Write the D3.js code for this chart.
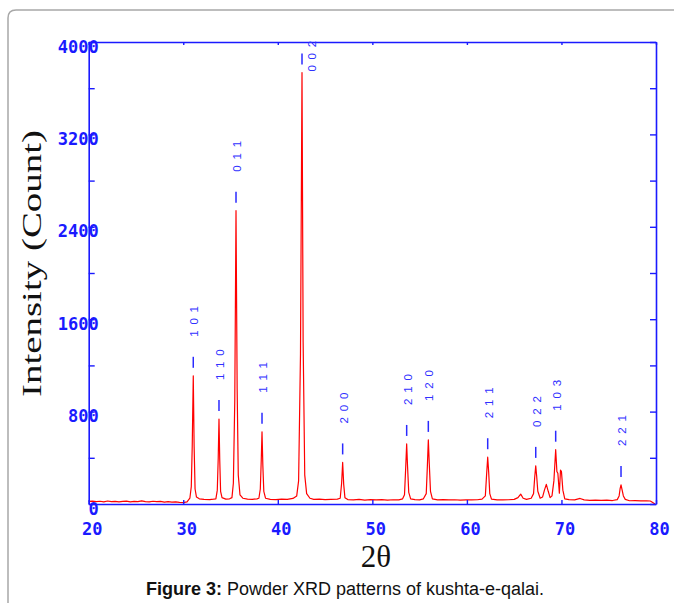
<!DOCTYPE html>
<html>
<head>
<meta charset="utf-8">
<script src="https://cdn.jsdelivr.net/npm/d3@7"></script>
<style>
  html, body { margin: 0; padding: 0; background: #fff; }
  svg { display: block; }
</style>
</head>
<body>
<div id="chart"></div>
<script>
// 衍射图谱：2θ 与强度
var twoTheta = [
  20.0, 20.4, 20.8, 21.2, 21.6, 22.0, 22.4, 22.8, 23.2, 23.6, 24.0, 24.4, 24.8, 25.2, 25.6,
  26.0, 26.4, 26.8, 27.2, 27.6, 28.0, 28.4, 28.8, 29.2, 29.6, 30.0, 30.4,
  30.70, 30.85, 30.95, 31.06, 31.15, 31.25, 31.40, 31.70, 32.2, 32.8, 33.2,
  33.45, 33.60, 33.70, 33.78, 33.86, 33.95, 34.10, 34.5, 34.9,
  35.15, 35.30, 35.45, 35.58, 35.70, 35.82, 36.00, 36.30, 36.8, 37.3, 37.8,
  38.00, 38.15, 38.25, 38.33, 38.42, 38.52, 38.70, 39.2, 39.8, 40.4, 41.0, 41.6,
  42.00, 42.20, 42.40, 42.56, 42.68, 42.85, 43.05, 43.40, 43.8, 44.4, 45.0, 45.6, 46.3,
  46.60, 46.75, 46.86, 46.97, 47.10, 47.40, 48.0, 48.6, 49.2, 49.8, 50.4, 51.0, 51.6, 52.2, 52.8, 53.2,
  53.40, 53.52, 53.63, 53.72, 53.85, 54.05, 54.5, 55.0, 55.4,
  55.70, 55.82, 55.92, 56.02, 56.15, 56.35, 56.9, 57.5, 58.1, 58.7, 59.3, 59.9, 60.5, 61.1, 61.6,
  61.95, 62.08, 62.20, 62.30, 62.42, 62.60, 63.2, 63.8, 64.4, 65.0, 65.4,
  65.69, 65.95, 66.3, 66.8,
  67.05, 67.17, 67.28, 67.38, 67.50, 67.75, 68.0, 68.2, 68.4, 68.6, 68.8, 69.0, 69.2,
  69.39, 69.52, 69.62, 69.78, 69.90, 70.00, 70.15, 70.35, 70.8, 71.4, 71.97, 72.4, 73.0, 73.6, 74.2, 74.8, 75.4, 75.9,
  76.10, 76.20, 76.30, 76.42, 76.55, 76.75, 77.2, 77.8, 78.4, 79.0, 79.4, 79.9
];
var counts = [
  22, 25, 20, 24, 19, 26, 21, 23, 18, 22, 25, 19, 23, 20, 27,
  21, 18, 24, 20, 22, 17, 21, 16, 19, 14, 12, 18,
  50, 150, 500, 1110, 500, 130, 60, 45, 40, 38, 42,
  45, 120, 400, 735, 380, 110, 55, 42, 45,
  55, 180, 900, 2540, 1000, 250, 80, 50, 42, 40, 45,
  50, 130, 380, 625, 330, 110, 50, 40, 38, 42, 40, 48,
  70, 200, 1300, 3735, 1400, 250, 90, 50, 40, 42, 38, 40, 42,
  50, 180, 360, 170, 55, 38, 36, 40, 34, 38, 35, 38, 34, 37, 36, 45,
  80, 300, 520, 330, 100, 45, 38, 36, 45,
  90, 330, 555, 350, 110, 45, 36, 38, 35, 37, 34, 36, 35, 37, 42,
  70, 250, 405, 280, 90, 42, 36, 35, 37, 40, 55,
  85, 50, 40, 50,
  90, 230, 330, 240, 110, 50, 60, 120, 170, 110, 55, 70, 200,
  470, 280, 266, 93, 294, 280, 120, 45, 38, 36, 48, 36, 32, 34, 31, 33, 30, 38,
  70, 130, 165, 120, 70, 40, 28, 30, 27, 28, 26, 0
];

// 晶面标注
var hklNames = ["1 0 1", "1 1 0", "0 1 1", "1 1 1", "0 0 2", "2 0 0", "2 1 0", "1 2 0", "2 1 1", "0 2 2", "1 0 3", "2 2 1"];
var hklTheta = [31.06, 33.78, 35.58, 38.33, 42.56, 46.86, 53.63, 55.92, 62.20, 67.28, 69.39, 76.30];

// 刻度
var xTicks = [20, 30, 40, 50, 60, 70, 80];
var yTicks = [0, 400, 800, 1200, 1600, 2000, 2400, 2800, 3200, 3600, 4000];
var yLabelTicks = [0, 800, 1600, 2400, 3200, 4000];

var width = 674, height = 603;
var blue = "#1a1aff";

var svg = d3.select("#chart").append("svg")
  .attr("width", width)
  .attr("height", height)
  .style("background", "#fff");

// 外框（圆角，右下方超出画面）
svg.append("path")
  .attr("d", "M8,610 L8,18 Q8,10 16,10 L690,10")
  .attr("fill", "none")
  .attr("stroke", "#a8a8a8")
  .attr("stroke-width", 1.5);

var x = d3.scaleLinear().domain([20, 80]).range([88.7, 656]);
var y = d3.scaleLinear().domain([0, 4000]).range([504, 42]);

function styleAxis(g) {
  g.select(".domain").attr("stroke", blue).attr("stroke-width", 1.6);
  g.selectAll(".tick line").attr("stroke", blue).attr("stroke-width", 1.4);
  g.selectAll(".tick text")
    .attr("fill", blue)
    .attr("font-family", "'DejaVu Sans Mono', monospace")
    .attr("font-weight", "bold")
    .attr("font-size", "17px");
}

//曲线
var pts = twoTheta.map(function(t, i) { return [t, counts[i]]; });
svg.append("path")
  .datum(pts)
  .attr("d", d3.line().x(function(d) { return x(d[0]); }).y(function(d) { return y(d[1]); }))
  .attr("fill", "none")
  .attr("stroke", "#ff0000")
  .attr("stroke-width", 1.2)
  .attr("stroke-linejoin", "round");

//坐标轴
var gTop = svg.append("g").attr("transform", "translate(0," + y(4000) + ")")
  .call(d3.axisTop(x).tickValues(xTicks).tickSize(-3).tickSizeOuter(0).tickFormat(""));
styleAxis(gTop);

var gRight = svg.append("g").attr("transform", "translate(" + x(80) + ",0)")
  .call(d3.axisRight(y).tickValues(yTicks).tickSize(-6).tickSizeOuter(0).tickFormat(""));
styleAxis(gRight);

var gBottom = svg.append("g").attr("transform", "translate(0," + y(0) + ")")
  .call(d3.axisBottom(x).tickValues(xTicks).tickSize(-4).tickSizeOuter(0).tickFormat(d3.format("d")));
styleAxis(gBottom);
gBottom.selectAll(".tick text").attr("y", 31).attr("dy", 0).attr("dx", 3);

var gLeft = svg.append("g").attr("transform", "translate(" + x(20) + ",0)")
  .call(d3.axisLeft(y).tickValues(yTicks).tickSize(-6).tickSizeOuter(0)
    .tickFormat(function(d) { return yLabelTicks.indexOf(d) >= 0 ? d : ""; }));
styleAxis(gLeft);
gLeft.selectAll(".tick text").attr("x", 10).attr("dy", 0).attr("y", 10);

//晶面标注
var gHkl = svg.append("g");
hklTheta.forEach(function(t, i) {
  var peak = d3.max(pts.filter(function(p) { return Math.abs(p[0] - t) < 0.3; }), function(p) { return p[1]; });
  var px = x(t);
  var mBottom = y(peak) - 8;
  var mTop = mBottom - 11;
  gHkl.append("line")
    .attr("x1", px).attr("x2", px)
    .attr("y1", mTop).attr("y2", mBottom)
    .attr("stroke", "#2a2aff")
    .attr("stroke-width", 1.5);
  var lx = px + 1;
  var lBottom = mTop - 20;
  if (lBottom - 34 < y(4000)) {
    lx = px + 10;
    lBottom = mBottom + 7;
  }
  gHkl.append("text")
    .attr("transform", "translate(" + lx + "," + lBottom + ") rotate(-90)")
    .attr("dy", "0.35em")
    .attr("font-family", "'Liberation Sans', Arial, sans-serif")
    .attr("font-size", "11.5px")
    .attr("letter-spacing", "1.3px")
    .attr("fill", "#3030ff")
    .text(hklNames[i]);
});

//轴标题
svg.append("text")
  .attr("transform", "translate(41,263.5) rotate(-90)")
  .attr("text-anchor", "middle")
  .attr("font-family", "'Liberation Serif', 'Times New Roman', serif")
  .attr("font-size", "28px")
  .attr("textLength", 267)
  .attr("lengthAdjust", "spacingAndGlyphs")
  .attr("fill", "#111")
  .text("Intensity (Count)");

svg.append("text")
  .attr("x", 376)
  .attr("y", 567)
  .attr("text-anchor", "middle")
  .attr("font-family", "'Liberation Serif', 'Times New Roman', serif")
  .attr("font-size", "31px")
  .attr("fill", "#111")
  .text("2θ");

//图注
var cap = svg.append("text")
  .attr("x", 345)
  .attr("y", 595)
  .attr("text-anchor", "middle")
  .attr("font-family", "'Liberation Sans', Arial, sans-serif")
  .attr("font-size", "18px")
  .attr("fill", "#111");
cap.append("tspan").attr("font-weight", "bold").text("Figure 3:");
cap.append("tspan").text(" Powder XRD patterns of kushta-e-qalai.");
</script>
</body>
</html>
